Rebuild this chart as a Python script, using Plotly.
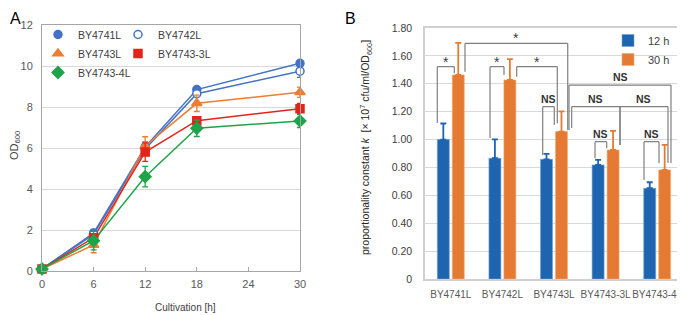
import plotly.graph_objects as go

# ---------------- Panel A data ----------------
hours = [0, 6, 12, 18, 30]
strainsA = ["BY4741L", "BY4742L", "BY4743L", "BY4743-3L", "BY4743-4L"]
od_by4741 = [0.10, 1.85, 6.05, 8.85, 10.13]
od_by4742 = [0.10, 1.78, 5.95, 8.65, 9.75]
od_by4743 = [0.10, 1.27, 6.10, 8.18, 8.72]
od_by4743_3 = [0.10, 1.62, 5.80, 7.33, 7.92]
od_by4743_4 = [0.10, 1.48, 4.60, 6.96, 7.32]
err_by4741 = [0.02, 0.18, 0.25, 0.10, 0.10]
err_by4742 = [0.02, 0.18, 0.25, 0.12, 0.30]
err_by4743 = [0.02, 0.38, 0.45, 0.40, 0.25]
err_by4743_3 = [0.02, 0.15, 0.45, 0.15, 0.25]
err_by4743_4 = [0.02, 0.45, 0.50, 0.40, 0.32]

# ---------------- Panel B data ----------------
strainsB = ["BY4741L", "BY4742L", "BY4743L", "BY4743-3L", "BY4743-4L"]
k_12h = [1.00, 0.866, 0.858, 0.818, 0.651]
k_12h_err = [0.115, 0.135, 0.04, 0.036, 0.043]
k_30h = [1.463, 1.427, 1.057, 0.925, 0.782]
k_30h_err = [0.23, 0.15, 0.145, 0.137, 0.18]
yticksB = [0, 0.2, 0.4, 0.6, 0.8, 1.0, 1.2, 1.4, 1.6, 1.8]

# significance brackets: x0, x1 (category index units), top, left end, right end, label
brackets = [
    (-0.262, 0.068, 1.523, 1.119, 1.475, "*"),
    (0.275, 2.266, 1.690, 1.487, 1.069, "*"),
    (0.760, 1.031, 1.523, 1.011, 1.463, "*"),
    (1.277, 2.064, 1.523, 1.451, 1.117, "*"),
    (1.781, 2.006, 1.236, 0.889, 1.104, "NS"),
    (2.291, 4.267, 1.391, 1.069, 0.832, "NS"),
    (2.343, 3.279, 1.236, 1.083, 0.961, "NS"),
    (3.279, 4.209, 1.236, 0.961, 0.832, "NS"),
    (2.795, 3.021, 0.985, 0.866, 0.937, "NS"),
    (3.744, 4.035, 0.985, 0.710, 0.830, "NS"),
]

W, H = 685, 315
PAGE_OFFSET = 8  # default page margin around the figure
FONT = "Arial, Liberation Sans, sans-serif"
TICK = "#595959"

seriesA = [
    ("BY4741L", od_by4741, err_by4741, "#4472C4", "circle", "#4472C4", 8, "legend"),
    ("BY4742L", od_by4742, err_by4742, "#4472C4", "circle", "white", 8, "legend2"),
    ("BY4743L", od_by4743, err_by4743, "#ED7D31", "triangle-up", "#ED7D31", 9, "legend"),
    ("BY4743-3L", od_by4743_3, err_by4743_3, "#E3241B", "square", "#E3241B", 8, "legend2"),
    ("BY4743-4L", od_by4743_4, err_by4743_4, "#1FA34A", "diamond", "#1FA34A", 9, "legend"),
]

fig = go.Figure()
for name, ys, es, col, sym, fill, size, leg in seriesA:
    fig.add_trace(go.Scatter(
        x=hours, y=ys, mode="lines", line=dict(color=col, width=1.5),
        showlegend=False, xaxis="x", yaxis="y", hoverinfo="skip", cliponaxis=False))
for name, ys, es, col, sym, fill, size, leg in seriesA:
    fig.add_trace(go.Scatter(
        x=hours, y=ys, mode="markers", name=name, legend=leg,
        marker=dict(symbol=sym, size=size, color=fill, line=dict(color=col, width=1.5)),
        error_y=dict(type="data", array=es, color=col, thickness=1.3, width=3),
        xaxis="x", yaxis="y", cliponaxis=False))

fig.add_trace(go.Bar(
    x=strainsB, y=k_12h, name="12 h", legend="legend3",
    marker=dict(color="#1F64AE", line=dict(color="#6f9fd8", width=0.6)),
    error_y=dict(type="data", symmetric=False, array=k_12h_err, arrayminus=[0] * 5,
                 color="#1F64AE", thickness=1.8, width=3),
    xaxis="x2", yaxis="y2"))
fig.add_trace(go.Bar(
    x=strainsB, y=k_30h, name="30 h", legend="legend3",
    marker=dict(color="#E57A33", line=dict(color="#f2aa78", width=0.6)),
    error_y=dict(type="data", symmetric=False, array=k_30h_err, arrayminus=[0] * 5,
                 color="#E57A33", thickness=1.8, width=3),
    xaxis="x2", yaxis="y2"))

shapes = []
annotations = []
for x0, x1, top, le, re_, lab in brackets:
    for (a, b, c, d) in [(x0, le, x0, top), (x0, top, x1, top), (x1, top, x1, re_)]:
        shapes.append(dict(type="line", xref="x2", yref="y2", x0=a, y0=b, x1=c, y1=d,
                           line=dict(color="#7f7f7f", width=1.2)))
    if lab == "*":
        annotations.append(dict(x=(x0 + x1) / 2, y=top, xref="x2", yref="y2", text="*",
                                showarrow=False, xanchor="center", yanchor="bottom", yshift=-5,
                                font=dict(family=FONT, size=14, color="#404040")))
    else:
        annotations.append(dict(x=(x0 + x1) / 2, y=top, xref="x2", yref="y2", text="<b>NS</b>",
                                showarrow=False, xanchor="center", yanchor="bottom", yshift=0,
                                font=dict(family=FONT, size=10.5, color="#333333")))

def px(xp):
    return (xp - PAGE_OFFSET) / W

def py(yp):
    return 1 - (yp - PAGE_OFFSET) / H

annotations += [
    dict(x=px(8), y=py(8), xref="paper", yref="paper", text="A", showarrow=False,
         xanchor="left", yanchor="top", font=dict(family=FONT, size=16, color="black")),
    dict(x=px(343), y=py(8), xref="paper", yref="paper", text="B", showarrow=False,
         xanchor="left", yanchor="top", font=dict(family=FONT, size=16, color="black")),
    dict(x=px(15), y=py(146), xref="paper", yref="paper", text="OD<sub>600</sub>",
         showarrow=False, textangle=-90, xanchor="center", yanchor="middle",
         font=dict(family=FONT, size=11, color="#404040")),
    dict(x=px(185), y=py(307), xref="paper", yref="paper", text="Cultivation [h]",
         showarrow=False, xanchor="center", yanchor="middle",
         font=dict(family=FONT, size=10, color="#404040")),
    dict(x=px(366), y=py(148), xref="paper", yref="paper",
         text="proportionality constant <i>k</i>  [× 10<sup>7</sup> cfu/ml/OD<sub>600</sub>]",
         showarrow=False, textangle=-90, xanchor="center", yanchor="middle",
         font=dict(family=FONT, size=10.5, color="#262626")),
]

legfont = dict(family=FONT, size=10.5, color="#404040")
fig.update_layout(
    width=W, height=H, autosize=False,
    margin=dict(l=0, r=0, t=0, b=0, pad=0, autoexpand=False),
    paper_bgcolor="white", plot_bgcolor="white",
    font=dict(family=FONT, color=TICK),
    barmode="group", bargap=0.42, bargroupgap=0.2,
    shapes=shapes, annotations=annotations,
    xaxis=dict(domain=[px(42), px(300)], range=[0, 30], tickvals=[0, 6, 12, 18, 24, 30],
               showgrid=False, zeroline=False, showline=True, mirror=True, automargin=False,
               linecolor="#a6a6a6", linewidth=1, ticks="inside", ticklen=4,
               tickcolor="#a6a6a6", tickfont=dict(size=11, color=TICK),
               ticklabelstandoff=3, anchor="y"),
    yaxis=dict(domain=[py(271), py(25)], range=[0, 12], dtick=2, automargin=False,
               showgrid=True, gridcolor="#d9d9d9", zeroline=False, showline=True, mirror=True,
               linecolor="#a6a6a6", linewidth=1, ticks="", tickfont=dict(size=11, color=TICK),
               ticklabelstandoff=6, anchor="x"),
    xaxis2=dict(domain=[px(425), px(683)], range=[-0.5, 4.5], type="category",
                showgrid=False, zeroline=False, showline=True, mirror=True, automargin=False,
                linecolor="#d0d0d0", linewidth=1.5, ticks="", tickangle=0,
                tickfont=dict(size=10, color=TICK), ticklabelstandoff=5, anchor="y2"),
    yaxis2=dict(domain=[py(279), py(28)], range=[0, 1.8], tickvals=yticksB, automargin=False,
                ticktext=["0" if v == 0 else f"{v:.2f}" for v in yticksB],
                showgrid=True, gridcolor="#d9d9d9", zeroline=False, showline=True, mirror=True,
                linecolor="#d0d0d0", linewidth=1.5, ticks="",
                tickfont=dict(size=10.5, color="#404040"), ticklabelstandoff=9, anchor="x2"),
    legend=dict(x=px(38), y=py(20), xanchor="left", yanchor="top", bgcolor="rgba(0,0,0,0)",
                font=legfont, tracegroupgap=0),
    legend2=dict(x=px(118), y=py(20), xanchor="left", yanchor="top", bgcolor="rgba(0,0,0,0)",
                 font=legfont, tracegroupgap=0),
    legend3=dict(x=px(608), y=py(26), xanchor="left", yanchor="top", bgcolor="rgba(0,0,0,0)",
                 font=dict(family=FONT, size=11, color="#404040"), tracegroupgap=0),
)

fig.write_html("out.html")
